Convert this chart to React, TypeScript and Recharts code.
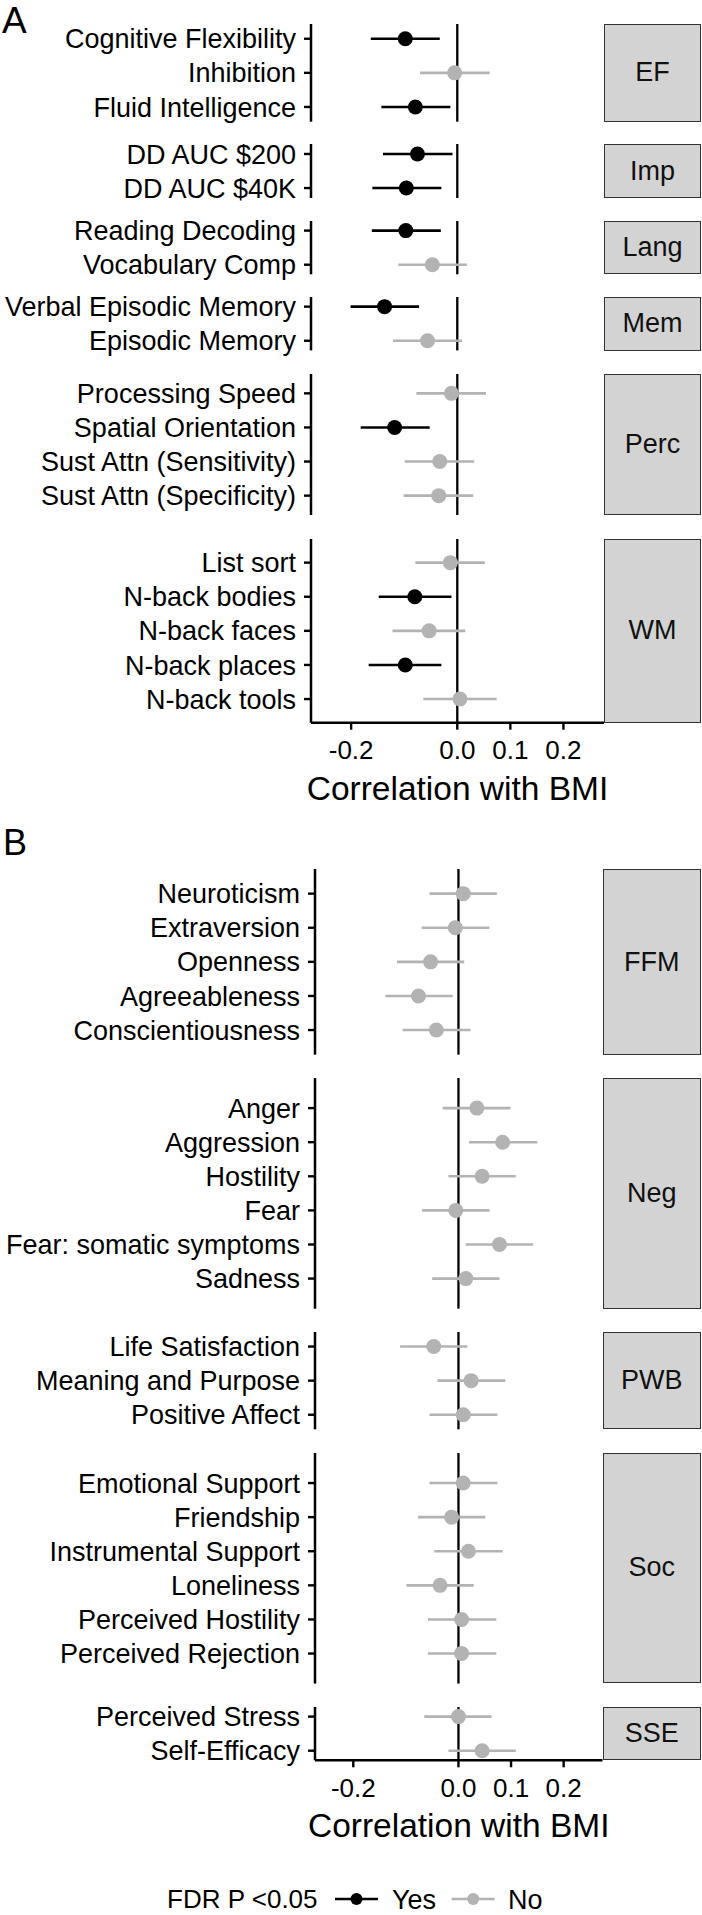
import React from 'react';
import { ScatterChart, Scatter, XAxis, YAxis, ErrorBar, ReferenceLine } from 'recharts';

// Panel A: cognition
const measuresA = [
  'Cognitive Flexibility', 'Inhibition', 'Fluid Intelligence',
  'DD AUC $200', 'DD AUC $40K',
  'Reading Decoding', 'Vocabulary Comp',
  'Verbal Episodic Memory', 'Episodic Memory',
  'Processing Speed', 'Spatial Orientation', 'Sust Attn (Sensitivity)', 'Sust Attn (Specificity)',
  'List sort', 'N-back bodies', 'N-back faces', 'N-back places', 'N-back tools',
];
const groupsA = ['EF', 'EF', 'EF', 'Imp', 'Imp', 'Lang', 'Lang', 'Mem', 'Mem', 'Perc', 'Perc', 'Perc', 'Perc', 'WM', 'WM', 'WM', 'WM', 'WM'];
const estA = [-0.098, -0.005, -0.079, -0.075, -0.096, -0.097, -0.047, -0.137, -0.056, -0.011, -0.118, -0.033, -0.035, -0.013, -0.080, -0.053, -0.098, 0.005];
const lowA = [-0.163, -0.070, -0.143, -0.140, -0.160, -0.161, -0.111, -0.201, -0.121, -0.077, -0.182, -0.099, -0.101, -0.079, -0.148, -0.122, -0.167, -0.064];
const highA = [-0.033, 0.061, -0.013, -0.009, -0.030, -0.031, 0.018, -0.072, 0.009, 0.054, -0.052, 0.032, 0.030, 0.052, -0.011, 0.015, -0.030, 0.074];
const fdrA = ['Yes', 'No', 'Yes', 'Yes', 'Yes', 'Yes', 'No', 'Yes', 'No', 'No', 'Yes', 'No', 'No', 'No', 'Yes', 'No', 'Yes', 'No'];

// Panel B: emotion / personality
const measuresB = [
  'Neuroticism', 'Extraversion', 'Openness', 'Agreeableness', 'Conscientiousness',
  'Anger', 'Aggression', 'Hostility', 'Fear', 'Fear: somatic symptoms', 'Sadness',
  'Life Satisfaction', 'Meaning and Purpose', 'Positive Affect',
  'Emotional Support', 'Friendship', 'Instrumental Support', 'Loneliness', 'Perceived Hostility', 'Perceived Rejection',
  'Perceived Stress', 'Self-Efficacy',
];
const groupsB = ['FFM', 'FFM', 'FFM', 'FFM', 'FFM', 'Neg', 'Neg', 'Neg', 'Neg', 'Neg', 'Neg', 'PWB', 'PWB', 'PWB', 'Soc', 'Soc', 'Soc', 'Soc', 'Soc', 'Soc', 'SSE', 'SSE'];
const estB = [0.009, -0.006, -0.053, -0.076, -0.042, 0.035, 0.084, 0.045, -0.005, 0.078, 0.014, -0.047, 0.024, 0.009, 0.009, -0.013, 0.019, -0.035, 0.006, 0.006, 0.000, 0.045];
const lowB = [-0.055, -0.070, -0.117, -0.139, -0.106, -0.030, 0.020, -0.019, -0.069, 0.014, -0.050, -0.111, -0.040, -0.055, -0.055, -0.077, -0.046, -0.099, -0.058, -0.058, -0.065, -0.019];
const highB = [0.073, 0.059, 0.011, -0.011, 0.023, 0.099, 0.150, 0.109, 0.059, 0.142, 0.078, 0.017, 0.089, 0.074, 0.074, 0.051, 0.084, 0.029, 0.072, 0.072, 0.063, 0.109];
const fdrB = measuresB.map(() => 'No');

const xTicks = [-0.2, 0, 0.1, 0.2];
const fdrLevels = ['Yes', 'No'];

const FONT = '"Liberation Sans", Arial, Helvetica, sans-serif';
const COLORS: Record<string, string> = { Yes: '#000000', No: '#B3B3B3' };
const ROW = 34.1;
const EDGE = 20; // room above/below each panel so labels aren't clipped

// panel boxes (page pixels)
const layoutA = {
  axisX: 311, plotRight: 604, domain: [-0.2756, 0.2764],
  boxes: { EF: [24, 121.7], Imp: [144.3, 198.3], Lang: [221, 274.3], Mem: [297.3, 350.7], Perc: [374, 515], WM: [539, 722.7] } as Record<string, number[]>,
};
const layoutB = {
  axisX: 315, plotRight: 602.5, domain: [-0.2728, 0.2739],
  boxes: { FFM: [869.3, 1055], Neg: [1078.3, 1309], PWB: [1332, 1429.3], Soc: [1452.7, 1683.3], SSE: [1706.7, 1760] } as Record<string, number[]>,
};

const Dot = (props: any) => <circle cx={props.cx} cy={props.cy} r={7.5} fill={props.fill} />;

const Facet = ({ name, labels, est, low, high, fdr, box, layout, showX }: any) => {
  const [top, bottom] = box;
  const n = labels.length;
  const h = bottom - top;
  const pad = (h / ROW - (n - 1)) / 2;
  const rows = labels.map((_: string, i: number) => i);
  const pts = rows.map((i: number) => ({ row: i, est: est[i], err: [est[i] - low[i], high[i] - est[i]], fdr: fdr[i] }));
  const xh = showX ? 90 : 0;
  const mb = showX ? 0 : EDGE;
  const H = EDGE + h + xh + mb;
  return (
    <>
      <div style={{ position: 'absolute', left: 0, top: top - EDGE, width: 702, height: H }}>
        <ScatterChart width={702} height={H} margin={{ top: EDGE, right: 702 - layout.plotRight, bottom: mb, left: 0 }}>
          <XAxis
            type="number"
            dataKey="est"
            domain={layout.domain}
            allowDataOverflow
            ticks={xTicks}
            interval={0}
            hide={!showX}
            height={xh}
            tickFormatter={(v: number) => v.toFixed(1)}
            axisLine={{ stroke: '#000', strokeWidth: 2.4 }}
            tickLine={{ stroke: '#000', strokeWidth: 2.4 }}
            tickSize={7}
            tickMargin={11}
            tick={{ fontSize: 26, fill: '#000' }}
            label={{ value: 'Correlation with BMI', position: 'insideBottom', offset: 13, fontSize: 33.5, fill: '#000' }}
          />
          <YAxis
            type="number"
            dataKey="row"
            domain={[-pad, n - 1 + pad]}
            allowDataOverflow
            reversed
            ticks={rows}
            interval={0}
            width={layout.axisX}
            tickFormatter={(i: number) => labels[i]}
            axisLine={{ stroke: '#000', strokeWidth: 2.5 }}
            tickLine={{ stroke: '#000', strokeWidth: 2.4 }}
            tickSize={7}
            tickMargin={8}
            tick={{ fontSize: 27, fill: '#000' }}
          />
          <ReferenceLine x={0} stroke="#000" strokeWidth={2.3} />
          {fdrLevels.map((lvl) => (
            <Scatter
              key={lvl}
              name={lvl}
              data={pts.filter((p: any) => p.fdr === lvl)}
              fill={COLORS[lvl]}
              shape={Dot}
              isAnimationActive={false}
            >
              <ErrorBar dataKey="err" direction="x" width={0} stroke={COLORS[lvl]} strokeWidth={2.6} />
            </Scatter>
          ))}
        </ScatterChart>
      </div>
      <div
        style={{
          position: 'absolute', left: layout.plotRight, top, width: 701 - layout.plotRight, height: h,
          boxSizing: 'border-box', background: '#D3D3D3', border: '1.7px solid #333',
          display: 'flex', alignItems: 'center', justifyContent: 'center', fontSize: 27, color: '#111',
        }}
      >
        {name}
      </div>
    </>
  );
};

const Panel = ({ measures, groups, est, low, high, fdr, layout }: any) => {
  const names = Object.keys(layout.boxes);
  return (
    <>
      {names.map((g: string, k: number) => {
        const idx = groups.map((x: string, i: number) => (x === g ? i : -1)).filter((i: number) => i >= 0);
        return (
          <Facet
            key={g}
            name={g}
            labels={idx.map((i: number) => measures[i])}
            est={idx.map((i: number) => est[i])}
            low={idx.map((i: number) => low[i])}
            high={idx.map((i: number) => high[i])}
            fdr={idx.map((i: number) => fdr[i])}
            box={layout.boxes[g]}
            layout={layout}
            showX={k === names.length - 1}
          />
        );
      })}
    </>
  );
};

export default function App() {
  const keyX = [335, 451.7];
  const textX = [392, 508];
  const ly = 1899;
  return (
    <div style={{ position: 'absolute', left: 0, top: 0, width: 702, height: 1915, background: '#fff', fontFamily: FONT, overflow: 'hidden' }}>
      <svg width={702} height={1915} style={{ position: 'absolute', left: 0, top: 0 }}>
        <text x={2} y={33} fontSize={37} fill="#000">A</text>
        <text x={3} y={855} fontSize={36} fill="#000">B</text>
        <text x={167} y={ly + 9} fontSize={26} fill="#000">FDR P &lt;0.05</text>
        {fdrLevels.map((lvl, i) => (
          <g key={lvl}>
            <line x1={keyX[i]} x2={keyX[i] + 43} y1={ly} y2={ly} stroke={COLORS[lvl]} strokeWidth={2.6} />
            <circle cx={keyX[i] + 21.5} cy={ly} r={6} fill={COLORS[lvl]} />
            <text x={textX[i]} y={ly + 9.5} fontSize={27} fill="#000">{lvl}</text>
          </g>
        ))}
      </svg>
      <Panel measures={measuresA} groups={groupsA} est={estA} low={lowA} high={highA} fdr={fdrA} layout={layoutA} />
      <Panel measures={measuresB} groups={groupsB} est={estB} low={lowB} high={highB} fdr={fdrB} layout={layoutB} />
    </div>
  );
}
